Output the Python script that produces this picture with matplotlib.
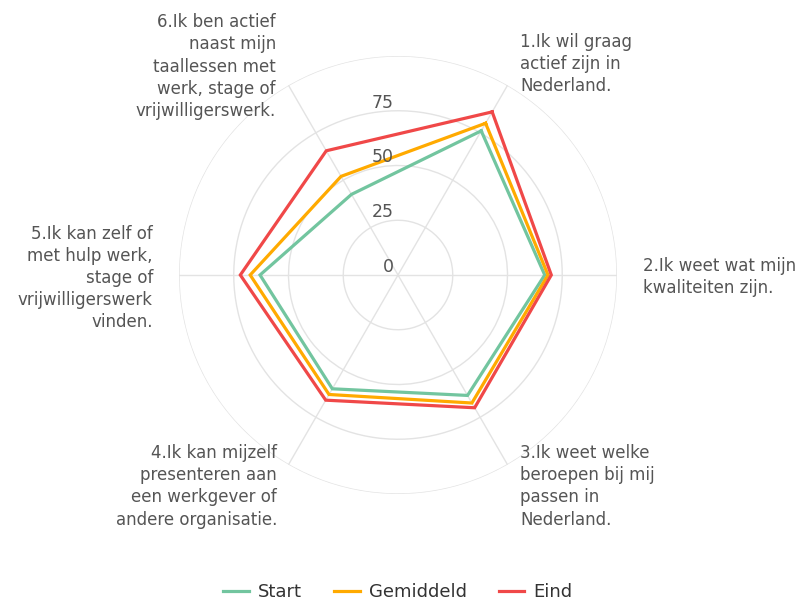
import numpy as np
import matplotlib.pyplot as plt

# statements (one per radar axis), clockwise from top-right
statements = [
    "1.Ik wil graag\nactief zijn in\nNederland.",
    "2.Ik weet wat mijn\nkwaliteiten zijn.",
    "3.Ik weet welke\nberoepen bij mij\npassen in\nNederland.",
    "4.Ik kan mijzelf\npresenteren aan\neen werkgever of\nandere organisatie.",
    "5.Ik kan zelf of\nmet hulp werk,\nstage of\nvrijwilligerswerk\nvinden.",
    "6.Ik ben actief\nnaast mijn\ntaallessen met\nwerk, stage of\nvrijwilligerswerk.",
]
start = [76, 67, 63.5, 60, 63, 42.5]
gemiddeld = [80, 68.5, 67.5, 63, 67.5, 52]
eind = [86, 70, 70, 66, 72, 65.5]
series_names = ["Start", "Gemiddeld", "Eind"]
series_colors = ["#72c59f", "#ffaa00", "#f04848"]
ring_ticks = [0, 25, 50, 75]

W, H = 804, 605
fig = plt.figure(figsize=(W / 100, H / 100), dpi=100)

cx, cy, R = 398, 275, 219
def fx(x):
    return x / W
def fy(y):
    return 1 - y / H

ax = fig.add_axes([fx(cx - R), fy(cy + R), 2 * R / W, 2 * R / H], projection='polar')
ax.set_theta_direction(-1)
ax.set_theta_offset(np.pi / 3)
ax.set_ylim(0, 100)

n = len(statements)
angles = np.arange(n) * 2 * np.pi / n
ax.set_xticks(angles)
ax.set_xticklabels([])
ax.set_yticks([25, 50, 75, 100])
ax.set_yticklabels([])
ax.grid(color='#e3e3e3', lw=1)
ax.spines['polar'].set_visible(False)
ax.tick_params(length=0)

closed = np.append(angles, angles[0])
for vals, name, col in zip([start, gemiddeld, eind], series_names, series_colors):
    v = np.append(vals, vals[0])
    ax.plot(closed, v, color=col, lw=2.3, label=name, solid_joinstyle='miter')

# radial value labels
for t in ring_ticks:
    ypx = cy - t * R / 100 - 8
    fig.text(fx(394), fy(ypx), str(t), ha='right', va='center', fontsize=12.5, color='#555555')

txt = dict(fontsize=12, color='#555555', linespacing=1.3)
fig.text(fx(520), fy(33), statements[0], ha='left', va='top', **txt)
fig.text(fx(643), fy(277), statements[1], ha='left', va='center', **txt)
fig.text(fx(520), fy(444), statements[2], ha='left', va='top', multialignment='left', **txt)
fig.text(fx(277), fy(444), statements[3], ha='right', va='top', multialignment='right', **txt)
fig.text(fx(153), fy(278), statements[4], ha='right', va='center', multialignment='right', **txt)
fig.text(fx(276), fy(120), statements[5], ha='right', va='bottom', multialignment='right', **txt)

fig.legend(loc='center', bbox_to_anchor=(fx(398), fy(592)), ncol=3, frameon=False,
           fontsize=13, handlelength=1.4, columnspacing=1.8, handletextpad=0.5,
           labelcolor='#333333')

fig.savefig('out.png', dpi=100)
